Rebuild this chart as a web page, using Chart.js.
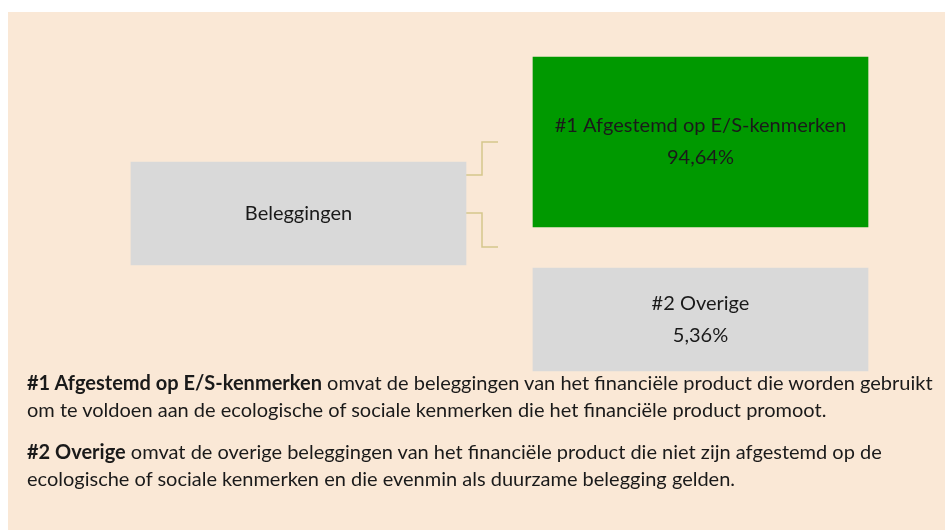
<!DOCTYPE html>
<html>
<head>
<meta charset="utf-8">
<script src="https://cdn.jsdelivr.net/npm/chart.js@4.4.1/dist/chart.umd.min.js"></script>
<style>
  html, body { margin: 0; padding: 0; background: #ffffff; }
  body { width: 945px; height: 530px; position: relative; overflow: hidden; font-family: Lato, "Liberation Sans", sans-serif; }
  #panel { position: absolute; left: 8px; top: 12px; right: 0; bottom: 0; background: #fae8d6; }
  #wrap { position: absolute; left: 0; top: 0; width: 945px; height: 530px; }
  #notes { position: absolute; left: 27px; top: 369px; color: #1a1a1a; font-size: 20px; line-height: 27px; white-space: nowrap; }
  #notes p { margin: 0 0 15px 0; }
</style>
</head>
<body>
<div id="panel"></div>
<div id="wrap"><canvas id="diagramme" width="945" height="530"></canvas></div>
<div id="notes"></div>
<script>
// donnees
const rootLabel = 'Beleggingen';
const categories = ['#1 Afgestemd op E/S-kenmerken', '#2 Overige'];
const shares = [94.64, 5.36];
const noteBold = ['#1 Afgestemd op E/S-kenmerken', '#2 Overige'];
const noteLines = [
  [' omvat de beleggingen van het financiële product die worden gebruikt',
   'om te voldoen aan de ecologische of sociale kenmerken die het financiële product promoot.'],
  [' omvat de overige beleggingen van het financiële product die niet zijn afgestemd op de',
   'ecologische of sociale kenmerken en die evenmin als duurzame belegging gelden.']
];

// mise en page des cases (pixels du canevas)
const boxW = 335;
const rootBox = { xc: 298.5, top: 162, bottom: 265 };
const childBoxes = [
  { xc: 700.5, top: 57, bottom: 227 },
  { xc: 700.5, top: 268, bottom: 371 }
];
const boxColors = ['#d9d9d9', '#009900', '#d9d9d9'];
const lineColor = '#d5c68c';
const elbowX = 482, elbowEnd = 498;
const elbowFrom = [175, 213], elbowTo = [142, 247];

function pct(v) {
  return v.toFixed(2).replace('.', ',') + '%';
}

// texte explicatif en HTML
let html = '';
for (let i = 0; i < noteBold.length; i++) {
  html += '<p><b>' + noteBold[i] + '</b>' + noteLines[i][0] + '<br>' + noteLines[i][1] + '</p>';
}
document.getElementById('notes').innerHTML = html;

const boxes = [rootBox].concat(childBoxes);
const boxData = boxes.map(b => ({ x: b.xc, y: [b.top, b.bottom] }));
const boxTexts = [[rootLabel]].concat(categories.map((c, i) => [c, pct(shares[i])]));

const connectors = elbowFrom.map((y0, i) => ({
  type: 'line',
  data: [
    { x: rootBox.xc + boxW / 2, y: y0 },
    { x: elbowX, y: y0 },
    { x: elbowX, y: elbowTo[i] },
    { x: elbowEnd, y: elbowTo[i] }
  ],
  borderColor: lineColor,
  borderWidth: 1.5,
  pointRadius: 0,
  tension: 0,
  fill: false
}));

const textesCases = {
  id: 'textesCases',
  afterDatasetsDraw(chart) {
    const ctx = chart.ctx;
    const meta = chart.getDatasetMeta(0);
    ctx.save();
    ctx.fillStyle = '#1a1a1a';
    ctx.font = '20px Lato';
    ctx.textAlign = 'center';
    ctx.textBaseline = 'middle';
    meta.data.forEach((el, i) => {
      const cy = (el.y + el.base) / 2;
      const lines = boxTexts[i];
      const gap = 32;
      const start = cy - gap * (lines.length - 1) / 2;
      lines.forEach((t, k) => ctx.fillText(t, el.x, start + k * gap));
    });
    ctx.restore();
  }
};

new Chart(document.getElementById('diagramme'), {
  type: 'bar',
  data: {
    datasets: [{
      data: boxData,
      backgroundColor: boxColors,
      borderWidth: 0,
      barThickness: boxW
    }].concat(connectors)
  },
  options: {
    responsive: false,
    animation: false,
    devicePixelRatio: 1,
    layout: { padding: 0 },
    scales: {
      x: { type: 'linear', min: 0, max: 945, offset: false, display: false },
      y: { type: 'linear', min: 0, max: 530, reverse: true, offset: false, display: false }
    },
    plugins: { legend: { display: false }, tooltip: { enabled: false } }
  },
  plugins: [textesCases]
});
</script>
</body>
</html>
